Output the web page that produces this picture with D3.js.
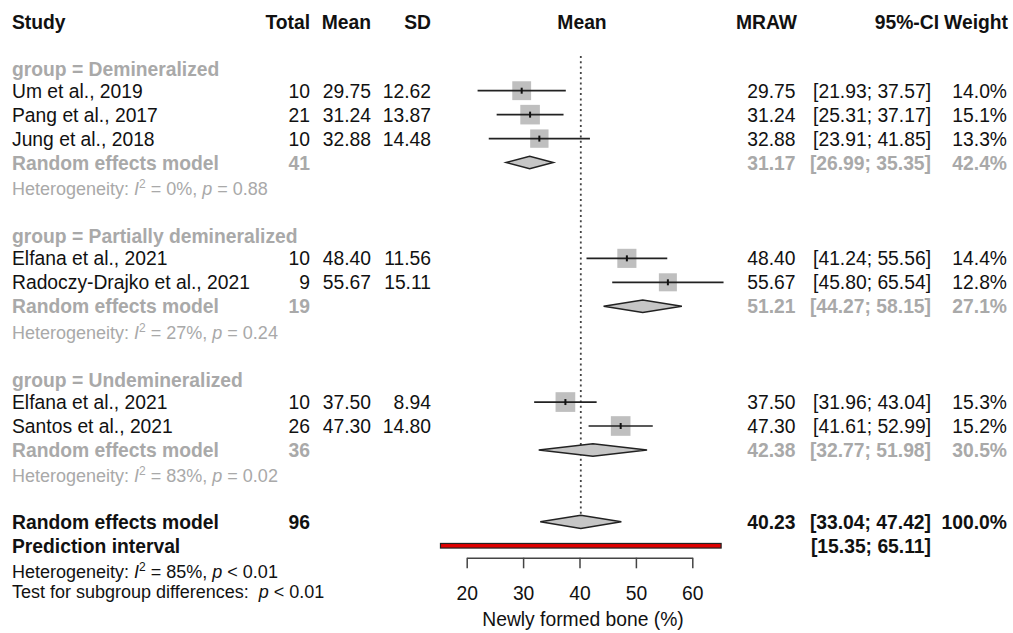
<!DOCTYPE html>
<html>
<head>
<meta charset="utf-8">
<script src="https://cdn.jsdelivr.net/npm/d3@7"></script>
<style>
  body { margin: 0; background: #fff; }
  svg { display: block; font-family: "Liberation Sans", Arial, sans-serif; }
</style>
</head>
<body>
<svg id="chart" width="1013" height="633"></svg>
<script>
// ---------------- DATA ----------------
const studies = ["Um et al., 2019", "Pang et al., 2017", "Jung et al., 2018",
  "Elfana et al., 2021", "Radoczy-Drajko et al., 2021",
  "Elfana et al., 2021", "Santos et al., 2021"];
const studyGroup = ["Demineralized", "Demineralized", "Demineralized",
  "Partially demineralized", "Partially demineralized",
  "Undemineralized", "Undemineralized"];
const totals = [10, 21, 10, 10, 9, 10, 26];
const means = [29.75, 31.24, 32.88, 48.40, 55.67, 37.50, 47.30];
const sds = [12.62, 13.87, 14.48, 11.56, 15.11, 8.94, 14.80];
const lower = [21.93, 25.31, 23.91, 41.24, 45.80, 31.96, 41.61];
const upper = [37.57, 37.17, 41.85, 55.56, 65.54, 43.04, 52.99];
const weights = [14.0, 15.1, 13.3, 14.4, 12.8, 15.3, 15.2];

const groups = ["Demineralized", "Partially demineralized", "Undemineralized"];
const groupTotals = [41, 19, 36];
const groupEst = [31.17, 51.21, 42.38];
const groupLower = [26.99, 44.27, 32.77];
const groupUpper = [35.35, 58.15, 51.98];
const groupWeight = [42.4, 27.1, 30.5];
const groupI2 = [0, 27, 83];
const groupP = ["= 0.88", "= 0.24", "= 0.02"];

const overallTotal = 96;
const overallEst = 40.23;
const overallCI = [33.04, 47.42];
const overallWeight = 100.0;
const predInterval = [15.35, 65.11];
const overallI2 = 85;
const overallP = "< 0.01";
const subgroupP = "< 0.01";

const axisTicks = [20, 30, 40, 50, 60];
const headers = ["Study", "Total", "Mean", "SD", "Mean", "MRAW", "95%-CI", "Weight"];
const axisLabel = "Newly formed bone (%)";

// ---------------- LAYOUT ----------------
const svg = d3.select("#chart");
const FS = 19.3, FSH = 18;
const GRAY = "#a9a9a9";
const INK = "#111";
const step = 23.95, y0 = 90.7 - 3 * step;
const rowY = i => y0 + i * step;
const base = 7;

const x = d3.scaleLinear().domain([20, 60]).range([466.7, 692.3]);

const col = { study: 12, total: 310, mean: 371, sd: 431, plot: 582, mraw: 795.5, ci: 931, w: 1007 };

function txt(xp, yp, s, opt = {}) {
  return svg.append("text")
    .attr("x", xp).attr("y", yp)
    .attr("text-anchor", opt.anchor || "start")
    .attr("font-size", opt.size || FS)
    .attr("font-weight", opt.bold ? "bold" : "normal")
    .attr("fill", opt.color || INK)
    .text(s);
}

// headers
const hy = 28.5;
txt(col.study, hy, headers[0], { bold: true });
txt(col.total, hy, headers[1], { bold: true, anchor: "end" });
txt(col.mean, hy, headers[2], { bold: true, anchor: "end" });
txt(col.sd, hy, headers[3], { bold: true, anchor: "end" });
txt(col.plot, hy, headers[4], { bold: true, anchor: "middle" });
txt(797, hy, headers[5], { bold: true, anchor: "end" });
txt(939, hy, headers[6], { bold: true, anchor: "end" });
txt(1008, hy, headers[7], { bold: true, anchor: "end" });

// reference (dotted) line at overall estimate
svg.append("line")
  .attr("x1", x(overallEst)).attr("x2", x(overallEst))
  .attr("y1", 56).attr("y2", rowY(21) + 7)
  .attr("stroke", "#444").attr("stroke-width", 1.8)
  .attr("stroke-dasharray", "2,3.3");

function het(yp, i2, p, color, prefix) {
  const t = svg.append("text").attr("x", col.study).attr("y", yp)
    .attr("font-size", FSH).attr("fill", color);
  t.append("tspan").text(prefix + ": ");
  t.append("tspan").attr("font-style", "italic").text("I");
  t.append("tspan").attr("font-size", 12).attr("dy", -7).text("2");
  t.append("tspan").attr("dy", 7).text(" = " + i2 + "%, ");
  t.append("tspan").attr("font-style", "italic").text("p");
  t.append("tspan").text(" " + p);
}

function diamond(est, lo, hi, yc, h) {
  svg.append("path")
    .attr("d", `M${x(lo)},${yc} L${x(est)},${yc - h} L${x(hi)},${yc} L${x(est)},${yc + h} Z`)
    .attr("fill", "#c6c6c6").attr("stroke", "#222").attr("stroke-width", 1.5);
}

const maxW = d3.max(weights);
const sizeOf = w => 19.7 * Math.sqrt(w / maxW);

let r = 2;
groups.forEach((g, gi) => {
  txt(col.study, rowY(r) + base + 2, "group = " + g, { bold: true, color: GRAY });
  r++;
  studies.forEach((s, i) => {
    if (studyGroup[i] !== g) return;
    const yc = rowY(r), yb = yc + base;
    txt(col.study, yb, s);
    txt(col.total, yb, totals[i], { anchor: "end" });
    txt(col.mean, yb, means[i].toFixed(2), { anchor: "end" });
    txt(col.sd, yb, sds[i].toFixed(2), { anchor: "end" });
    txt(col.mraw, yb, means[i].toFixed(2), { anchor: "end" });
    txt(col.ci, yb, `[${lower[i].toFixed(2)}; ${upper[i].toFixed(2)}]`, { anchor: "end" });
    txt(col.w, yb, weights[i].toFixed(1) + "%", { anchor: "end" });
    const sz = sizeOf(weights[i]);
    svg.append("rect")
      .attr("x", x(means[i]) - sz / 2).attr("y", yc - sz / 2)
      .attr("width", sz).attr("height", sz)
      .attr("fill", "#bfbfbf");
    svg.append("line")
      .attr("x1", x(lower[i])).attr("x2", x(upper[i]))
      .attr("y1", yc).attr("y2", yc)
      .attr("stroke", "#222").attr("stroke-width", 1.7);
    svg.append("line")
      .attr("x1", x(means[i])).attr("x2", x(means[i]))
      .attr("y1", yc - 3).attr("y2", yc + 3)
      .attr("stroke", "#111").attr("stroke-width", 2);
    r++;
  });
  // random effects model for subgroup
  const yc = rowY(r), yb = yc + base;
  txt(col.study, yb, "Random effects model", { bold: true, color: GRAY });
  txt(col.total, yb, groupTotals[gi], { bold: true, color: GRAY, anchor: "end" });
  txt(col.mraw, yb, groupEst[gi].toFixed(2), { bold: true, color: GRAY, anchor: "end" });
  txt(col.ci, yb, `[${groupLower[gi].toFixed(2)}; ${groupUpper[gi].toFixed(2)}]`, { bold: true, color: GRAY, anchor: "end" });
  txt(col.w, yb, groupWeight[gi].toFixed(1) + "%", { bold: true, color: GRAY, anchor: "end" });
  diamond(groupEst[gi], groupLower[gi], groupUpper[gi], yc, 6.2);
  r++;
  het(rowY(r) + base + 1.5, groupI2[gi], groupP[gi], GRAY, "Heterogeneity");
  r += 2;
});

// overall
{
  const yc = rowY(r), yb = yc + base;
  txt(col.study, yb, "Random effects model", { bold: true });
  txt(col.total, yb, overallTotal, { bold: true, anchor: "end" });
  txt(col.mraw, yb, overallEst.toFixed(2), { bold: true, anchor: "end" });
  txt(col.ci, yb, `[${overallCI[0].toFixed(2)}; ${overallCI[1].toFixed(2)}]`, { bold: true, anchor: "end" });
  txt(col.w, yb, overallWeight.toFixed(1) + "%", { bold: true, anchor: "end" });
  diamond(overallEst, overallCI[0], overallCI[1], yc, 6.6);
  r++;
  const yp = rowY(r);
  txt(col.study, yp + base, "Prediction interval", { bold: true });
  txt(col.ci, yp + base, `[${predInterval[0].toFixed(2)}; ${predInterval[1].toFixed(2)}]`, { bold: true, anchor: "end" });
  svg.append("rect")
    .attr("x", x(predInterval[0])).attr("y", yp - 2.3)
    .attr("width", x(predInterval[1]) - x(predInterval[0])).attr("height", 4.6)
    .attr("fill", "#e00000").attr("stroke", "#222").attr("stroke-width", 1.2);
}

het(578, overallI2, overallP, INK, "Heterogeneity");
{
  const t = svg.append("text").attr("x", col.study).attr("y", 598)
    .attr("font-size", FSH).attr("fill", INK);
  t.append("tspan").text("Test for subgroup differences:");
  t.append("tspan").attr("dx", 10).attr("font-style", "italic").text("p");
  t.append("tspan").text(" " + subgroupP);
}

// axis
const axisG = svg.append("g").attr("transform", "translate(0,557.7)")
  .call(d3.axisBottom(x).tickValues(axisTicks).tickFormat(d3.format("d"))
    .tickSize(10.6).tickSizeOuter(0).tickPadding(18.5));
axisG.select(".domain").attr("stroke", "#444").attr("stroke-width", 1.5);
axisG.selectAll(".tick line").attr("stroke", "#444").attr("stroke-width", 1.5);
axisG.selectAll(".tick text").attr("font-size", FS).attr("fill", INK)
  .attr("font-family", "'Liberation Sans', Arial, sans-serif");

txt(583, 625.5, axisLabel, { anchor: "middle" });
</script>
</body>
</html>
